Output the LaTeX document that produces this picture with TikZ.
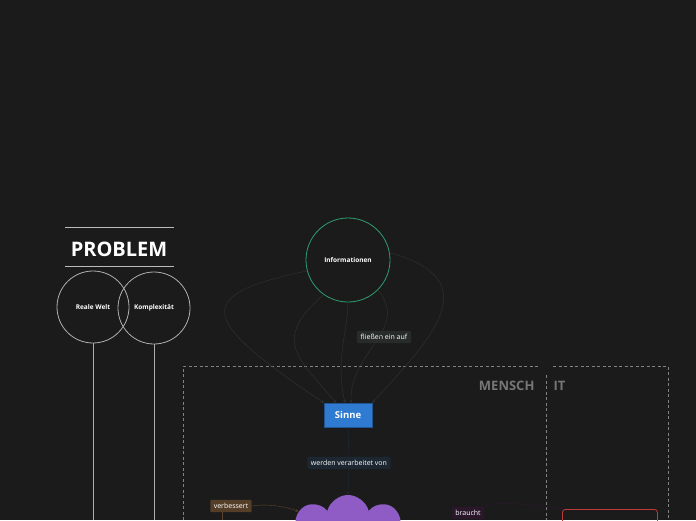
\documentclass[tikz,border=0pt]{standalone}
\usepackage{fontspec}
\setmainfont{Open Sans}
\usetikzlibrary{positioning,shapes.symbols}
\definecolor{bg}{HTML}{1B1B1B}
\definecolor{infogreen}{HTML}{2E9E6E}
\definecolor{sinneblue}{HTML}{2F7BD1}
\definecolor{cloudpurple}{HTML}{8E5CC4}
\definecolor{linkgray}{HTML}{2F3532}
\definecolor{boxred}{HTML}{C0393B}
\tikzset{
  topic/.style={circle,draw=white!65!bg,line width=0.8pt,minimum size=72pt,text=white,font=\bfseries\fontsize{6.5}{7}\selectfont},
  linklabel/.style={rounded corners=1pt,inner sep=3.5pt,text=white!75,font=\fontsize{7}{8}\selectfont},
  zone/.style={draw=white!45!bg,dash pattern=on 3pt off 2.5pt,line width=0.8pt},
  zonetitle/.style={text=white!40!bg,font=\bfseries\fontsize{13}{15}\selectfont}
}
\begin{document}
\begin{tikzpicture}[x=1pt,y=-1pt]
  \fill[bg] (0,0) rectangle (696,520);
  \useasboundingbox (0,0) rectangle (696,520);
  \clip (0,0) rectangle (696,520);
  % problem
  \draw[white!70!bg] (65,227) -- (174,227);
  \draw[white!70!bg,line width=0.8pt] (65,266) -- (174,266);
  \node[text=white,font=\bfseries\fontsize{20}{22}\selectfont] (problem) at (119,249) {PROBLEM};
  \node[topic] (welt) at (93,307) {Reale Welt};
  \node[topic] (komplex) at (154,308) {Komplexität};
  \coordinate (weltend) at (93,520);
  \coordinate (komplexend) at (154,520);
  \draw[white!65!bg,line width=0.8pt] (welt) -- (weltend);
  \draw[white!65!bg,line width=0.8pt] (komplex) -- (komplexend);
  % zones
  \draw[zone] (183,520) -- (183,366) -- (540,366);
  \draw[zone] (553,366) -- (668,366) -- (668,520);
  \draw[zone] (546,375) -- (546,520);
  \node[zonetitle,anchor=east] (mensch) at (538,386) {MENSCH};
  \node[zonetitle,anchor=west] (it) at (550,386) {IT};
  % informationen
  \node[topic,draw=infogreen,minimum size=84pt] (info) at (348,260) {Informationen};
  \node[fill=sinneblue,draw=sinneblue!70!black,text=white,minimum width=48pt,minimum height=24pt,font=\bfseries\fontsize{9.5}{10}\selectfont] (sinne) at (348,415) {Sinne};
  \node[linklabel,fill=linkgray!60!bg] (fliessen) at (384,337) {fließen ein auf};
  \draw[linkgray,->,>=stealth] (info.195) .. controls (190,295) and (200,320) .. (sinne.north west);
  \draw[linkgray,->,>=stealth] (info.235) .. controls (270,340) and (300,360) .. ([xshift=-12pt]sinne.north);
  \draw[linkgray,->,>=stealth] (info.south) .. controls (348,330) and (335,360) .. ([xshift=-3pt]sinne.north);
  \draw[linkgray,->,>=stealth] (info.315) .. controls (410,330) and (350,350) .. ([xshift=3pt]sinne.north);
  \draw[linkgray,->,>=stealth] (info.10) .. controls (490,280) and (430,340) .. (sinne.north east);
  % cloud
  \node[cloud,cloud puffs=9,fill=cloudpurple,minimum width=130pt,minimum height=90pt] (cloud) at (348,540) {};
  \node[linklabel,fill=sinneblue!12!bg] (verarbeitet) at (349,463) {werden verarbeitet von};
  \draw[sinneblue!15!bg] (sinne) -- (verarbeitet);
  \draw[sinneblue!15!bg,->,>=stealth] (verarbeitet) -- (cloud.north);
  \node[linklabel,fill=brown!35!bg] (verbessert) at (231,506) {verbessert};
  \coordinate (verbessertend) at (222,520);
  \draw[brown!40!bg,->,>=stealth] (verbessert.east) .. controls (270,503) and (290,508) .. (cloud.150);
  \draw[brown!40!bg] (verbessert.south -| verbessertend) -- (verbessertend);
  % it
  \node[draw=boxred,rounded corners=3pt,line width=0.8pt,minimum width=95pt,minimum height=30pt,anchor=north west] (itbox) at (562,509) {};
  \node[linklabel,fill=violet!15!bg] (braucht) at (468,513) {braucht};
  \draw[violet!20!bg,->,>=stealth] (braucht.north east) .. controls (500,500) and (530,505) .. (itbox.north west);
\end{tikzpicture}
\end{document}
